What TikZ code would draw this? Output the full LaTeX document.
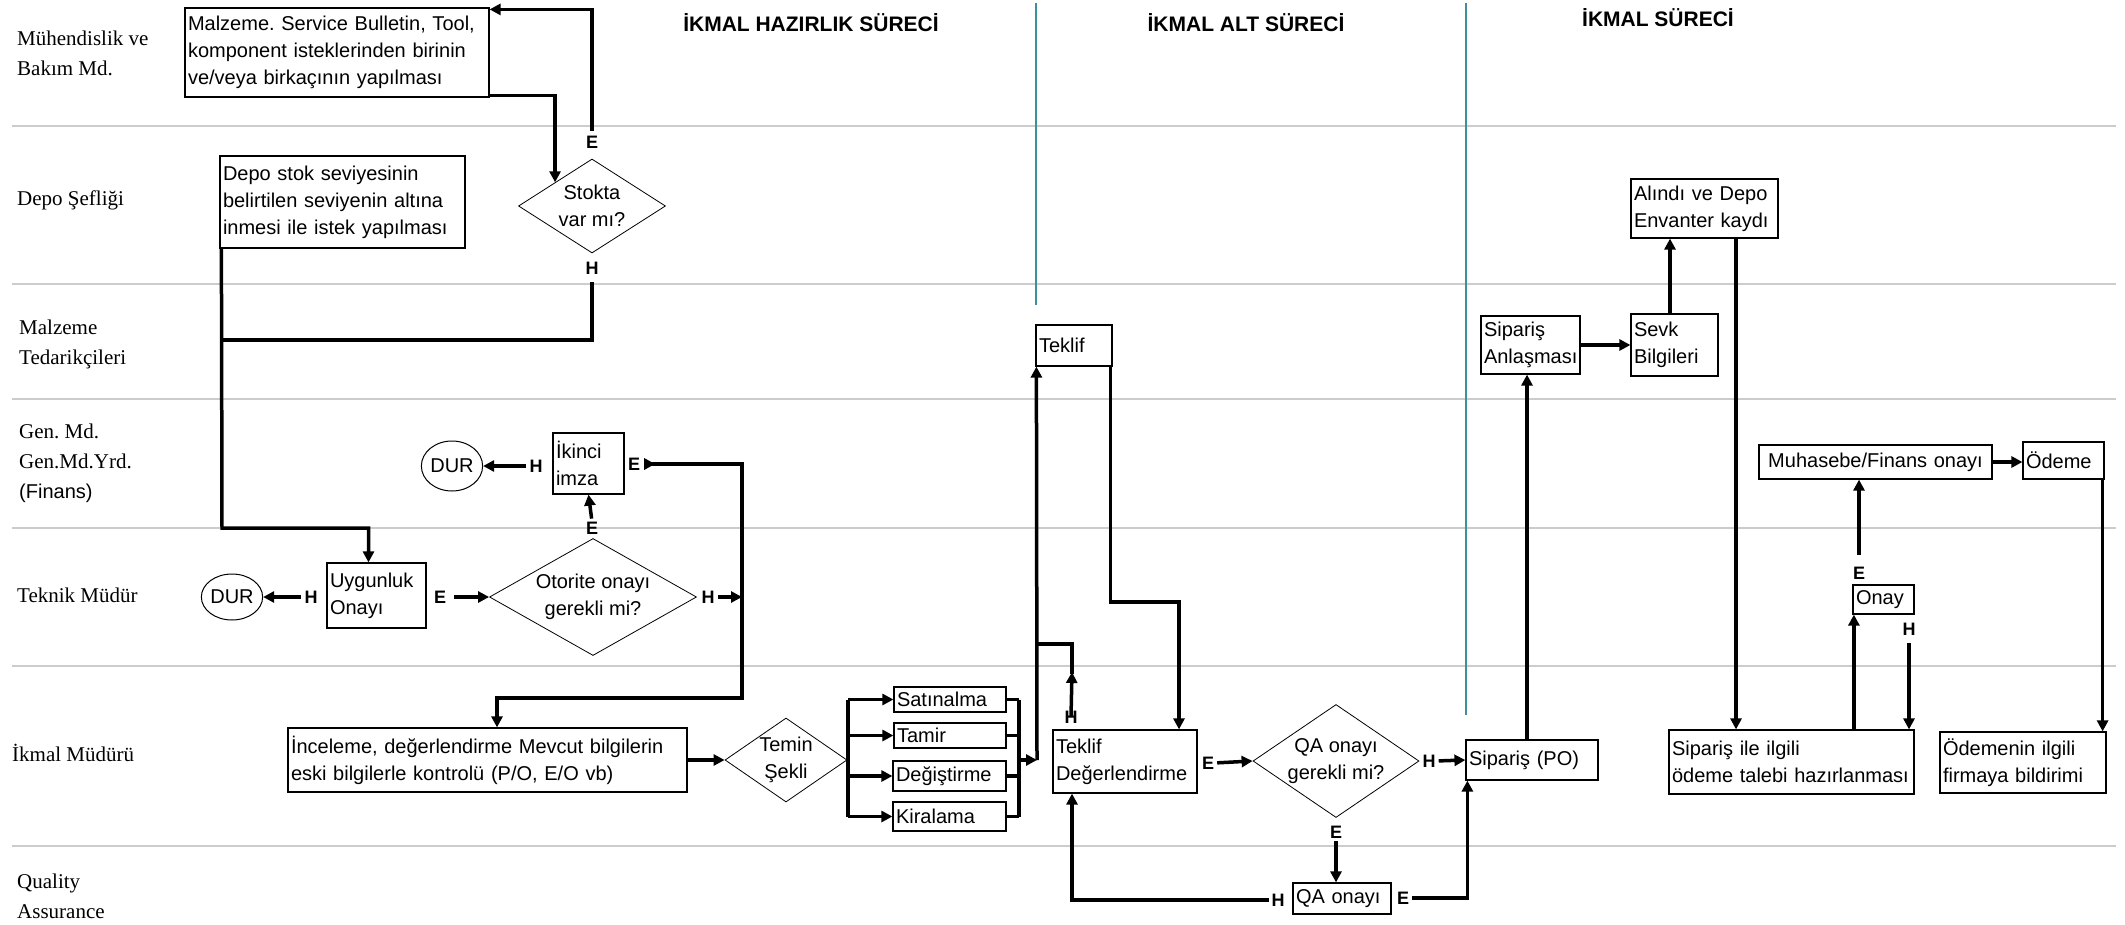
\documentclass[tikz,border=0pt]{standalone}
\usepackage{fontspec}
\setmainfont{Liberation Sans}
\newfontfamily\lanefont{Liberation Serif}
\usetikzlibrary{arrows.meta,shapes.geometric,calc}
\definecolor{divteal}{RGB}{60,145,155}
\frenchspacing
\begin{document}
\begin{tikzpicture}[x=1pt,y=-1pt,
  box/.style={draw, line width=1.2pt, inner xsep=3pt, inner ysep=0pt, align=left, font=\fontsize{20}{27}\selectfont},
  cbox/.style={box, align=center},
  dia/.style={draw, diamond, line width=0.8pt, inner sep=-6pt, align=center, font=\fontsize{20}{27}\selectfont},
  stopnode/.style={draw, ellipse, line width=1pt, inner sep=0pt, font=\fontsize{20}{24}\selectfont},
  lbl/.style={font=\bfseries\fontsize{18}{18}\selectfont, inner sep=0pt},
  lane/.style={anchor=west, align=left, font=\lanefont\fontsize{21}{30}\selectfont, inner sep=0pt},
  hdr/.style={font=\bfseries\fontsize{21}{21}\selectfont, inner sep=0pt},
  sepline/.style={draw=gray!40, line width=1.6pt},
  divline/.style={draw=divteal, line width=1.3pt},
  thk/.style={line width=3.5pt},
  arr/.style={thk, -{Triangle[length=11pt,width=11pt]}},
]
\useasboundingbox (0,0) rectangle (2125,925);
\fill[white] (0,0) rectangle (2125,925);

% lane separators
\foreach \yy in {126,284,399,528,666,846} \draw[sepline] (12,\yy) -- (2116,\yy);
% phase dividers
\draw[divline] (1036,3) -- (1036,305);
\draw[divline] (1466,3) -- (1466,715);

% headers
\node[hdr] (h1) at (811,23) {İKMAL HAZIRLIK SÜRECİ};
\node[hdr] (h2) at (1246,23) {İKMAL ALT SÜRECİ};
\node[hdr] (h3) at (1658,18) {İKMAL SÜRECİ};

% lane labels
\node[lane] (l1) at (17,53) {Mühendislik ve\\Bakım Md.};
\node[lane] (l2) at (17,200) {Depo Şefliği};
\node[lane] (l3) at (19,344) {Malzeme\\Tedarikçileri};
\node[lane] (l4) at (19,463) {Gen. Md.\\Gen.Md.Yrd.\\{\normalfont\fontsize{20}{30}\selectfont (Finans)}};
\node[lane] (l5) at (17,595) {Teknik Müdür};
\node[lane] (l6) at (12,753) {İkmal Müdürü};
\node[lane] (l7) at (17,896) {Quality\\Assurance};

% boxes
\node[box, minimum width=304pt, text width=298pt, minimum height=89pt] (A) at (337,52.5) {Malzeme. Service Bulletin, Tool,\\komponent isteklerinden birinin\\ve/veya birkaçının yapılması};
\node[box, minimum width=245pt, text width=239pt, minimum height=92pt] (B) at (342.5,202) {Depo stok seviyesinin\\belirtilen seviyenin altına\\inmesi ile istek yapılması};
\node[dia, minimum width=147pt, minimum height=94pt, shape aspect=1.56] (D1) at (592,206) {Stokta\\var mı?};
\node[box, minimum width=99pt, text width=93pt, minimum height=65pt] (U) at (376.5,595.5) {Uygunluk\\Onayı};
\node[stopnode, minimum width=56pt, minimum height=46pt] (DUR1) at (232,597) {DUR};
\node[dia, minimum width=207pt, minimum height=117pt, shape aspect=1.77] (D2) at (593,597) {Otorite onayı\\gerekli mi?};
\node[box, minimum width=71pt, text width=65pt, minimum height=61pt] (I) at (588.5,463.5) {İkinci\\imza};
\node[stopnode, minimum width=58pt, minimum height=50pt] (DUR2) at (452,466) {DUR};
\node[box, minimum width=399pt, text width=393pt, minimum height=64pt] (In) at (487.5,760) {İnceleme, değerlendirme Mevcut bilgilerin\\eski bilgilerle kontrolü (P/O, E/O vb)};
\node[dia, minimum width=122pt, minimum height=84pt, shape aspect=1.45] (D3) at (786,760) {Temin\\Şekli};
\node[box, minimum width=112pt, text width=106pt, minimum height=25pt] (Sat) at (950,699.5) {Satınalma};
\node[box, minimum width=112pt, text width=106pt, minimum height=25pt] (Tam) at (950,735.5) {Tamir};
\node[box, minimum width=113pt, text width=107pt, minimum height=30pt] (Deg) at (949.5,776) {Değiştirme};
\node[box, minimum width=113pt, text width=107pt, minimum height=29pt] (Kir) at (949.5,816.5) {Kiralama};
\node[box, minimum width=76pt, text width=70pt, minimum height=41pt] (Tk) at (1074,345.5) {Teklif};
\node[box, minimum width=144pt, text width=138pt, minimum height=63pt] (TD) at (1125,761.5) {Teklif\\Değerlendirme};
\node[dia, minimum width=166pt, minimum height=113pt, shape aspect=1.47] (D4) at (1336,761) {QA onayı\\gerekli mi?};
\node[box, minimum width=98pt, text width=92pt, minimum height=31pt] (QA) at (1342,898.5) {QA onayı};
\node[box, minimum width=132pt, text width=126pt, minimum height=40pt] (PO) at (1532,760) {Sipariş (PO)};
\node[box, minimum width=99pt, text width=93pt, minimum height=58pt] (SA) at (1530.5,345) {Sipariş\\Anlaşması};
\node[box, minimum width=87pt, text width=81pt, minimum height=62pt] (SB) at (1674.5,345) {Sevk\\Bilgileri};
\node[box, minimum width=147pt, text width=141pt, minimum height=59pt] (AL) at (1704.5,208.5) {Alındı ve Depo\\Envanter kaydı};
\node[cbox, minimum width=233pt, text width=227pt, minimum height=34pt] (MF) at (1875.5,462) {Muhasebe/Finans onayı};
\node[box, minimum width=81pt, text width=75pt, minimum height=37pt] (OD) at (2063.5,460.5) {Ödeme};
\node[box, minimum width=61pt, text width=55pt, minimum height=29pt] (ON) at (1883.5,599.5) {Onay};
\node[box, minimum width=245pt, text width=239pt, minimum height=64pt] (SI) at (1791.5,762) {Sipariş ile ilgili\\ödeme talebi hazırlanması};
\node[box, minimum width=166pt, text width=160pt, minimum height=61pt] (OB) at (2023,762.5) {Ödemenin ilgili\\firmaya bildirimi};

% E / H labels
\node[lbl] (E1) at (592,142) {E};
\node[lbl] (H1) at (592,268) {H};
\node[lbl] (H2) at (311,597) {H};
\node[lbl] (E2) at (440,597) {E};
\node[lbl] (E3) at (592,528) {E};
\node[lbl] (H3) at (536,466) {H};
\node[lbl] (H4) at (708,597) {H};
\node[lbl] (E5) at (634,464) {E};
\node[lbl] (H5) at (1071,717) {H};
\node[lbl] (E6) at (1208,763) {E};
\node[lbl] (H6) at (1429,761) {H};
\node[lbl] (E7) at (1336,832) {E};
\node[lbl] (H7) at (1278,900) {H};
\node[lbl] (E8) at (1403,898) {E};
\node[lbl] (H8) at (1909,629) {H};
\node[lbl] (E9) at (1859,573) {E};

% helper coordinates
\coordinate (j1) at (222,340);
\coordinate (c1) at (222,528);
\coordinate (vtop) at (742,464);
\coordinate (vbot) at (742,698);
\coordinate (bx) at (848,760);
\coordinate (mx) at (1019,760);
\coordinate (tv) at (1037,760);
\coordinate (c2) at (1179,602);
\coordinate (c3) at (1072,644);

% connectors
\draw[arr] ([yshift=2pt]A.south east) -| (D1.north west);
\draw[arr, shorten <=5pt] (E1.north) |- ([yshift=-2pt]A.north east);
\draw[thk] ([yshift=-8pt]H1.south) |- (j1);
\draw[arr] ([xshift=2pt]B.south west) -- (c1) -| ([xshift=-8pt]U.north);
\draw[arr, shorten <=3pt] (H2.west) -- (DUR1.east);
\draw[arr, shorten <=8pt] (E2.east) -- (D2.west);
\draw[arr, shorten <=3pt] (E3.north) -- (I.south);
\draw[arr, shorten <=3pt] (H3.west) -- (DUR2.east);
\draw[arr, shorten <=3pt] (H4.east) -- (H4.east -| vtop);
\draw[thk, {Triangle[length=11pt,width=11pt,reversed]}-{Triangle[length=11pt,width=11pt]}, shorten <=4pt] (E5.east) -- (vtop) -- (vbot) -| ([xshift=9.5pt]In.north);
\draw[arr] (In.east) -- (D3.west);
\draw[thk] (D3.east) -- (bx);
\draw[thk] (bx |- Sat.west) -- (bx |- Kir.west);
\draw[arr] (bx |- Sat.west) -- (Sat.west);
\draw[arr] (bx |- Tam.west) -- (Tam.west);
\draw[arr] (bx |- Deg.west) -- (Deg.west);
\draw[arr] (bx |- Kir.west) -- (Kir.west);
\draw[thk] (Sat.east) -- (mx |- Sat.east);
\draw[thk] (Tam.east) -- (mx |- Tam.east);
\draw[thk] (Deg.east) -- (mx |- Deg.east);
\draw[thk] (Kir.east) -- (mx |- Kir.east);
\draw[thk] (mx |- Sat.east) -- (mx |- Kir.east);
\draw[arr] (mx) -- (tv);
\draw[arr] (tv) -- ([xshift=1pt]Tk.south west);
\draw[arr] ([xshift=-2pt]Tk.south east) |- (c2) -- (c2 |- TD.north);
\draw[arr] ([yshift=-6pt]H5.north) -- (1072,672);
\draw[thk] (1072,674) -- (c3) -- (c3 -| tv);
\draw[arr, shorten <=3pt] (E6.east) -- (D4.west);
\draw[arr, shorten <=3pt] (H6.east) -- (PO.west);
\draw[arr, shorten <=3pt] (E7.south) -- (E7.south |- QA.north);
\draw[arr, shorten <=2pt] (H7.west) -| (c3 |- TD.south);
\draw[arr, shorten <=3pt] (E8.east) -| ([xshift=2pt]PO.south west);
\draw[arr] ([xshift=-5pt]PO.north) -- ([xshift=-5pt]PO.north |- SA.south);
\draw[arr] (SA.east) -- (SA.east -| SB.west);
\draw[arr] ([xshift=-4.5pt]SB.north) -- ([xshift=-4.5pt]SB.north |- AL.south);
\draw[arr] ([xshift=31.5pt]AL.south) -- ([xshift=31.5pt]AL.south |- SI.north);
\draw[arr] ([xshift=1.5pt]ON.south west |- SI.north) -- ([xshift=1.5pt]ON.south west);
\draw[arr, shorten <=8pt] (H8.south) -- (H8.south |- SI.north);
\draw[arr, shorten <=12pt] (E9.north) -- (E9.north |- MF.south);
\draw[arr] (MF.east) -- (MF.east -| OD.west);
\draw[arr] ([xshift=-2pt]OD.south east) -- ([xshift=-2pt]OD.south east |- OB.north);
\end{tikzpicture}
\end{document}
